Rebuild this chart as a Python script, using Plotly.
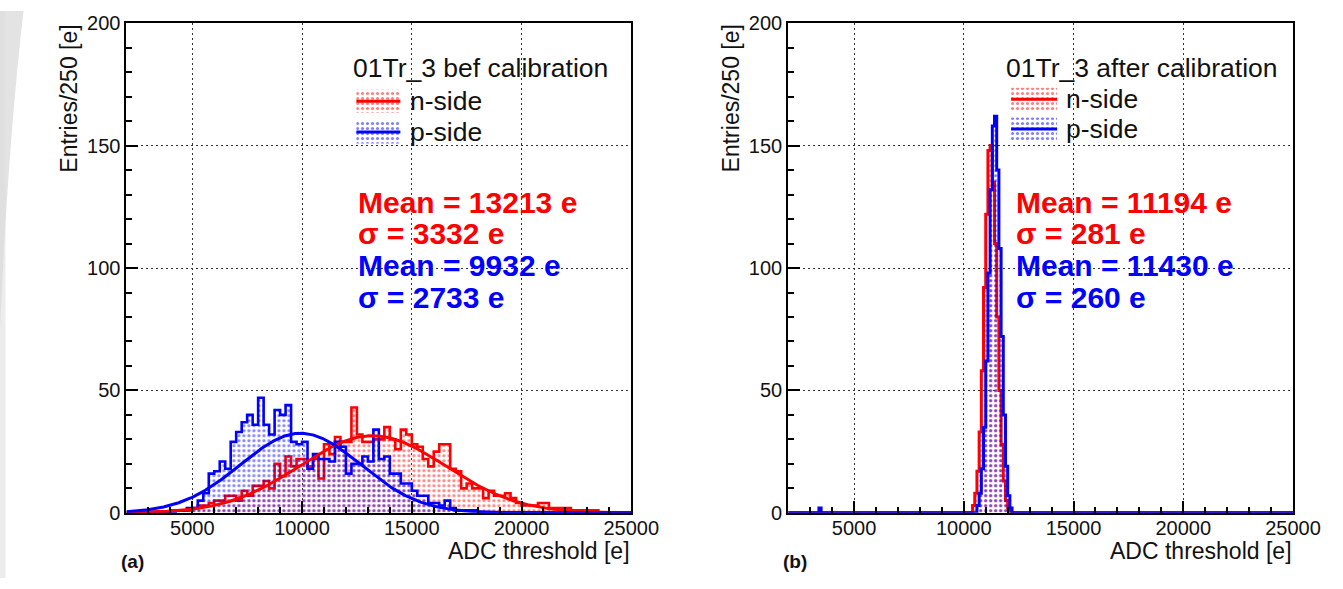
import numpy as np
import plotly.graph_objects as go

W, H = 1343, 589
FONT = "Liberation Sans, Arial, sans-serif"
RED, BLUE, INK = "#ff0000", "#0000ff", "#111111"

# ---------------- (a) before calibration: 250 e bins, 2000 .. 25000 e
bins_a_lo, bins_a_w = 2000, 250
n_side_before = [
    0, 0, 0, 0, 0, 0, 0, 0, 1, 1,
    1, 1, 2, 3, 3, 4, 5, 5, 7, 7,
    5, 9, 7, 11, 11, 13, 10, 20, 15, 23,
    19, 22, 22, 19, 22, 14, 28, 24, 31, 29,
    29, 43, 32, 29, 29, 30, 30, 35, 30, 26,
    34, 32, 28, 27, 22, 19, 25, 28, 28, 18,
    17, 10, 12, 10, 10, 6, 9, 7, 7, 8,
    6, 4, 3, 3, 3, 4, 4, 2, 2, 2,
    2, 1, 1, 1, 1, 1, 0, 0, 0, 0,
    0, 0,
]
p_side_before = [
    0, 0, 0, 0, 0, 0, 0, 0, 0, 1,
    1, 2, 2, 5, 8, 16, 17, 21, 18, 29,
    33, 37, 40, 36, 47, 36, 32, 42, 40, 44,
    29, 28, 29, 18, 24, 22, 22, 21, 29, 27,
    16, 20, 20, 23, 21, 34, 22, 23, 16, 16,
    12, 12, 9, 7, 7, 4, 4, 3, 5, 2,
    1, 1, 1, 1, 0, 0, 0, 0, 0, 0,
    0, 0, 0, 0, 0, 0, 0, 0, 0, 0,
    0, 0, 0, 0, 0, 0, 0, 0, 0, 0,
    0, 0,
]
# Gaussian fits (amplitude, mean, sigma)
fit_n_before = (31.5, 13213, 3332)
fit_p_before = (32.5, 9932, 2733)

# ---------------- (b) after calibration: 100 e bins, 2000 .. 25000 e
bins_b_lo, bins_b_hi, bins_b_w = 2000, 25000, 100
n_side_after_start = 10400
n_side_after = [3, 8, 17, 33, 58, 92, 122, 148, 150, 135, 110, 80, 50, 28, 13, 5, 2]
p_side_after_start = 10600
p_side_after = [3, 8, 18, 35, 62, 98, 132, 158, 162, 140, 108, 72, 40, 19, 7, 2]
p_side_after_stray = {3400: 2}

stats_before = [("Mean = 13213 e", RED), ("σ = 3332 e", RED),
                ("Mean = 9932 e", BLUE), ("σ = 2733 e", BLUE)]
stats_after = [("Mean = 11194 e", RED), ("σ = 281 e", RED),
               ("Mean = 11430 e", BLUE), ("σ = 260 e", BLUE)]

x_range = [2000, 25000]
x_ticks = [5000, 10000, 15000, 20000, 25000]
y_range = [0, 200]

# panel frames in page pixels
PANEL_A = (127, 632)
PANEL_B = (789, 1294)
TOP, BOTTOM = 22, 512

# drawing box of the figure on the page
BOX_X0, BOX_W = 0.5, 1315.5
BOX_Y0, BOX_H = 9.8, 567.4


def fx(px):
    return (px - BOX_X0) / BOX_W


def fy(py):
    return 1 - (py - BOX_Y0) / BOX_H


def full_counts(lo, hi, width, start, counts, extra=None):
    n = int(round((hi - lo) / width))
    out = np.zeros(n)
    i0 = int(round((start - lo) / width))
    out[i0:i0 + len(counts)] = counts
    for x, v in (extra or {}).items():
        out[int(round((x - lo) / width))] = v
    return out


def step_trace(lo, width, counts, color, xa, ya, lw=2.6):
    counts = list(counts)
    edges = lo + width * np.arange(len(counts) + 1)
    return go.Scatter(
        x=edges, y=counts + [counts[-1]], mode="lines",
        line=dict(color=color, width=lw, shape="hv"),
        fill="tozeroy", fillcolor="rgba(0,0,0,0)",
        fillpattern=dict(shape=".", fgcolor=color, bgcolor="rgba(0,0,0,0)",
                         size=5, solidity=0.3),
        xaxis=xa, yaxis=ya, showlegend=False, hoverinfo="skip")


def gauss_trace(params, color, xa, ya):
    amp, mu, sig = params
    xs = np.linspace(x_range[0], x_range[1], 600)
    ys = amp * np.exp(-0.5 * ((xs - mu) / sig) ** 2)
    return go.Scatter(x=xs, y=ys, mode="lines", line=dict(color=color, width=3),
                      xaxis=xa, yaxis=ya, showlegend=False, hoverinfo="skip")


fig = go.Figure()

# (a)
fig.add_trace(step_trace(bins_a_lo, bins_a_w, n_side_before, RED, "x", "y"))
fig.add_trace(step_trace(bins_a_lo, bins_a_w, p_side_before, BLUE, "x", "y"))
fig.add_trace(gauss_trace(fit_n_before, RED, "x", "y"))
fig.add_trace(gauss_trace(fit_p_before, BLUE, "x", "y"))

# (b)
n_after_full = full_counts(bins_b_lo, bins_b_hi, bins_b_w, n_side_after_start, n_side_after)
p_after_full = full_counts(bins_b_lo, bins_b_hi, bins_b_w, p_side_after_start, p_side_after,
                           p_side_after_stray)
fig.add_trace(step_trace(bins_b_lo, bins_b_w, n_after_full, RED, "x2", "y2", lw=3))
fig.add_trace(step_trace(bins_b_lo, bins_b_w, p_after_full, BLUE, "x2", "y2", lw=3))


# legend swatches on a pixel-unit overlay
def swatch(x0, x1, yc, color):
    h = 11.5
    fig.add_trace(go.Scatter(
        x=[x0, x1, x1, x0, x0], y=[yc - h, yc - h, yc + h, yc + h, yc - h],
        mode="lines", line=dict(width=0, color="rgba(0,0,0,0)"),
        fill="toself", fillcolor="rgba(0,0,0,0)",
        fillpattern=dict(shape=".", fgcolor=color, bgcolor="rgba(0,0,0,0)",
                         size=5, solidity=0.3),
        xaxis="x3", yaxis="y3", showlegend=False, hoverinfo="skip"))
    fig.add_trace(go.Scatter(
        x=[x0, x1], y=[yc, yc], mode="lines", line=dict(color=color, width=3),
        xaxis="x3", yaxis="y3", showlegend=False, hoverinfo="skip"))


swatch(357, 401, 100, RED)
swatch(357, 401, 131, BLUE)
swatch(1012, 1058, 98, RED)
swatch(1012, 1058, 128, BLUE)

annotations = []


def ann(text, px, py, size, color=INK, xanchor="left", yanchor="middle", bold=False, angle=0):
    annotations.append(dict(
        text=text, x=fx(px), y=fy(py), xref="paper", yref="paper",
        xanchor=xanchor, yanchor=yanchor, showarrow=False, textangle=angle,
        font=dict(family=FONT, size=size, color=color, weight="bold" if bold else "normal")))


# legend texts
ann("01Tr_3 bef calibration", 352, 67, 26.5)
ann("n-side", 409, 100, 26.5)
ann("p-side", 409, 131, 26.5)
ann("01Tr_3 after calibration", 1005, 67, 26.5)
ann("n-side", 1065, 98, 26.5)
ann("p-side", 1065, 128, 26.5)

# statistics boxes
for k, (t, c) in enumerate(stats_before):
    ann(t, 357, 201 + 31.7 * k, 30, c, bold=True)
for k, (t, c) in enumerate(stats_after):
    ann(t, 1015, 201 + 31.7 * k, 30, c, bold=True)

# axis titles
for (x0, x1), tag in ((PANEL_A, "(a)"), (PANEL_B, "(b)")):
    ann("ADC threshold [e]", x1 + 1, 550, 23, xanchor="right")
    ann("Entries/250 [e]", x0 - 57, TOP - 1, 23, xanchor="center", yanchor="top", angle=-90)
    ann(tag, x0 - 7, 561, 19, bold=True)

axis_common = dict(
    showline=True, linecolor="black", linewidth=2, mirror=True,
    ticks="inside", tickcolor="black", tickwidth=1.5,
    showgrid=True, gridcolor="#333333", gridwidth=1, griddash="2px,3px",
    zeroline=False, tickfont=dict(family=FONT, size=20, color=INK),
    fixedrange=True,
)
xcommon = dict(axis_common, range=x_range, tickvals=x_ticks,
               ticktext=[str(v) for v in x_ticks], ticklen=12, ticklabelstandoff=-4,
               minor=dict(dtick=1000, tick0=0, ticks="inside", ticklen=6,
                          tickcolor="black", tickwidth=1.5, showgrid=False))
ycommon = dict(axis_common, range=y_range, dtick=50, ticklen=12,
               minor=dict(dtick=10, ticks="inside", ticklen=6,
                          tickcolor="black", tickwidth=1.5, showgrid=False))

ydom = [fy(BOTTOM), fy(TOP)]

# page background: light grey rim of the slide
shapes = [
    dict(type="rect", xref="paper", yref="paper", x0=0, x1=fx(6), y0=0, y1=1,
         fillcolor="#ececec", line=dict(width=0), layer="below"),
    dict(type="path", xref="paper", yref="paper",
         path=f"M 0 1 L {fx(24)} 1 Q {fx(8)} {fy(150)} 0 {fy(330)} Z",
         fillcolor="#dcdcdc", opacity=0.8, line=dict(width=0), layer="below"),
]

fig.update_layout(
    width=W, height=H, margin=dict(l=0, r=0, t=0, b=0),
    paper_bgcolor="white", plot_bgcolor="rgba(0,0,0,0)",
    showlegend=False,
    xaxis=dict(xcommon, domain=[fx(PANEL_A[0]), fx(PANEL_A[1])], anchor="y"),
    yaxis=dict(ycommon, domain=ydom, anchor="x"),
    xaxis2=dict(xcommon, domain=[fx(PANEL_B[0]), fx(PANEL_B[1])], anchor="y2"),
    yaxis2=dict(ycommon, domain=ydom, anchor="x2"),
    # overlay in page-pixel units for the legend swatches
    xaxis3=dict(domain=[0, 1], range=[BOX_X0, BOX_X0 + BOX_W], visible=False,
                fixedrange=True, anchor="y3"),
    yaxis3=dict(domain=[0, 1], range=[BOX_Y0 + BOX_H, BOX_Y0], visible=False,
                fixedrange=True, anchor="x3"),
    annotations=annotations, shapes=shapes,
)

fig.write_html("out.html")
